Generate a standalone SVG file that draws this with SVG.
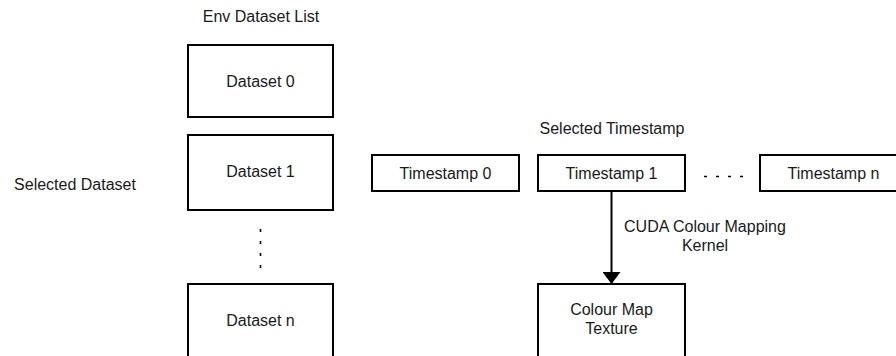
<svg xmlns="http://www.w3.org/2000/svg" width="896" height="356" viewBox="0 0 896 356">
  <style>
    .box { fill: #ffffff; stroke: #000000; stroke-width: 2; }
    .lbl { font-family: "Liberation Sans", Arial, sans-serif; font-size: 16px; fill: #1a1a1a; text-anchor: middle; }
    .edge { stroke: #000000; stroke-width: 2; fill: none; }
    .dots { stroke: #000000; stroke-width: 1.6; fill: none; stroke-dasharray: 3 9; }
  </style>
  <defs>
    <marker id="arrow" viewBox="0 0 12 18" refX="12" refY="9" markerWidth="12" markerHeight="18" markerUnits="userSpaceOnUse" orient="auto">
      <path d="M0,0 L12,9 L0,18 Z" fill="#000000"/>
    </marker>
  </defs>

  <!-- free labels -->
  <text class="lbl" x="261" y="22">Env Dataset List</text>
  <text class="lbl" x="75" y="190">Selected Dataset</text>
  <text class="lbl" x="612" y="134">Selected Timestamp</text>

  <!-- dataset column -->
  <g id="dataset0">
    <rect class="box" x="188" y="45" width="145" height="72"/>
    <text class="lbl" x="260.5" y="87">Dataset 0</text>
  </g>
  <g id="dataset1">
    <rect class="box" x="188" y="135" width="145" height="75"/>
    <text class="lbl" x="260.5" y="177">Dataset 1</text>
  </g>
  <g id="datasetN">
    <rect class="box" x="188" y="284" width="145" height="76"/>
    <text class="lbl" x="260.5" y="326">Dataset n</text>
  </g>

  <!-- timestamp row -->
  <g id="timestamp0">
    <rect class="box" x="372" y="155" width="147" height="36"/>
    <text class="lbl" x="445.5" y="178.5">Timestamp 0</text>
  </g>
  <g id="timestamp1">
    <rect class="box" x="538" y="155" width="147" height="36"/>
    <text class="lbl" x="611.5" y="178.5">Timestamp 1</text>
  </g>
  <g id="timestampN">
    <rect class="box" x="760" y="155" width="147" height="36"/>
    <text class="lbl" x="833.5" y="178.5">Timestamp n</text>
  </g>

  <g id="colourMap">
    <rect class="box" x="538" y="284" width="147" height="76"/>
    <text class="lbl" x="611.5" y="315">Colour Map</text>
    <text class="lbl" x="611.5" y="334">Texture</text>
  </g>

  <!-- connectors -->
  <g id="connectors">
    <line class="dots" x1="260.5" y1="229" x2="260.5" y2="268"/>
    <line class="dots" x1="704" y1="176.5" x2="744" y2="176.5"/>
    <line class="edge" x1="611.5" y1="191" x2="611.5" y2="284" marker-end="url(#arrow)"/>
    <text class="lbl" x="705" y="232">CUDA Colour Mapping</text>
    <text class="lbl" x="705" y="251">Kernel</text>
  </g>
</svg>
